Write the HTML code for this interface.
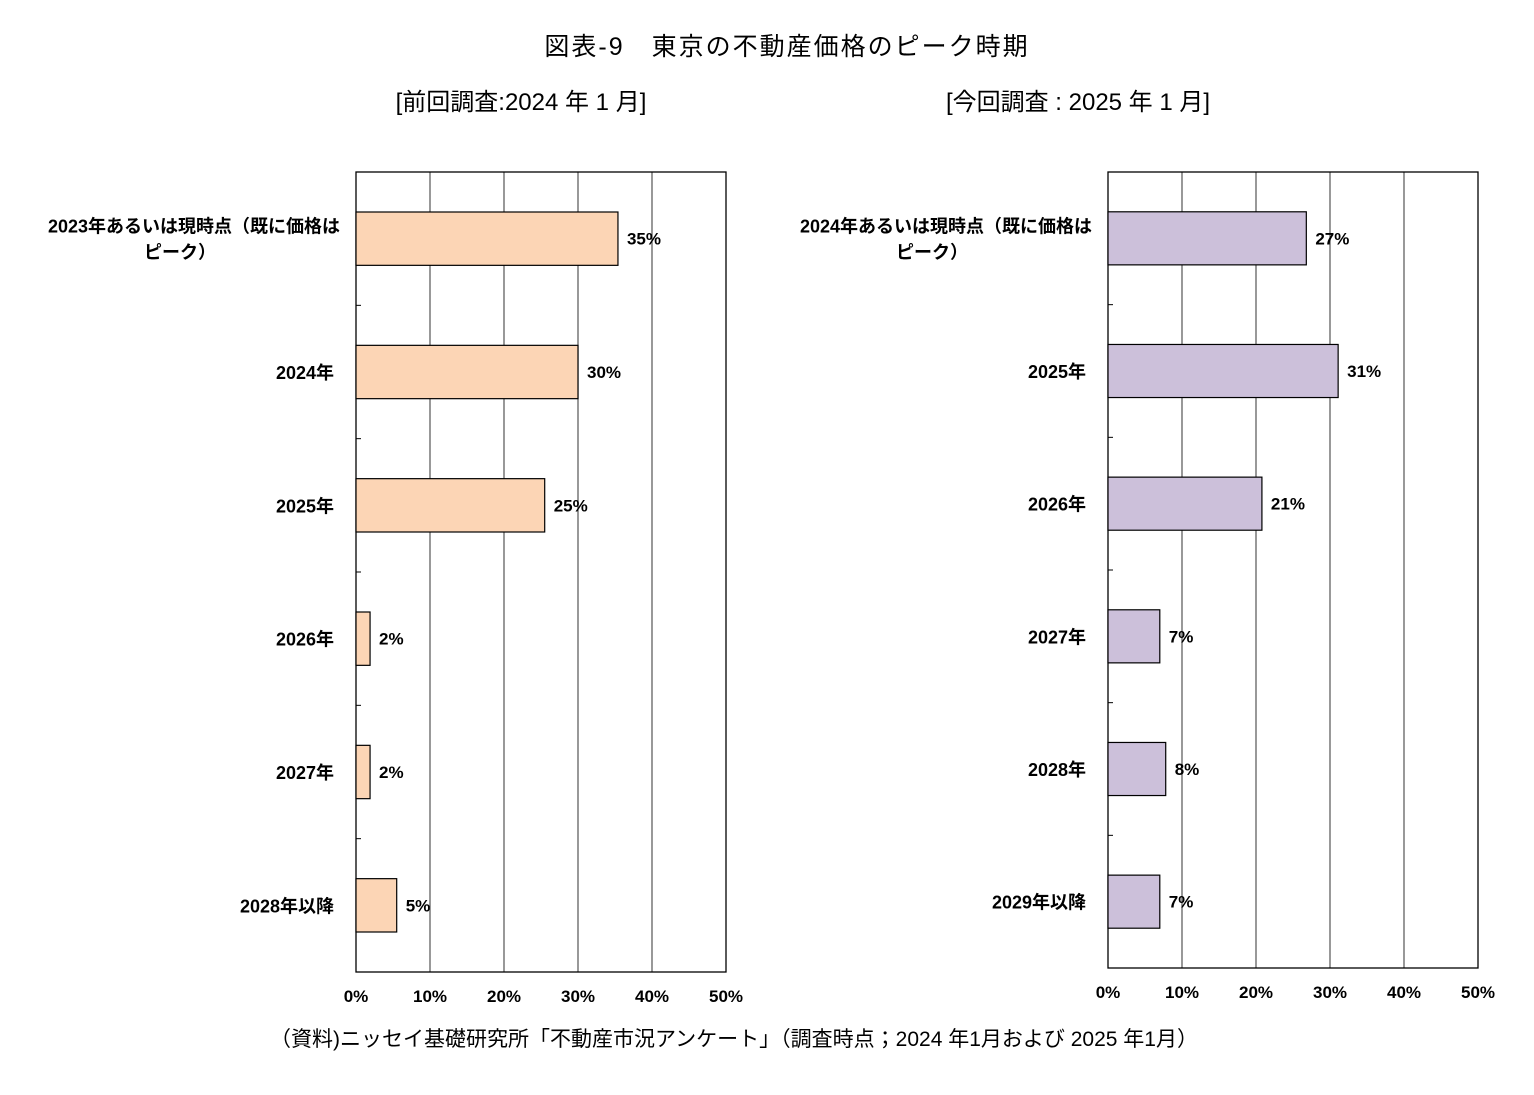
<!DOCTYPE html>
<html><head><meta charset="utf-8">
<style>
body{margin:0;background:#fff;}
svg text{font-family:"Liberation Sans","Noto Sans CJK JP",sans-serif;fill:#000;}
</style></head>
<body>
<svg id="chart" width="1534" height="1090" viewBox="0 0 1534 1090" xmlns="http://www.w3.org/2000/svg">
<rect width="1534" height="1090" fill="#fff"/>
<text x="787" y="55" font-size="25" letter-spacing="2" text-anchor="middle">図表-9　東京の不動産価格のピーク時期</text>
<text x="521" y="110" font-size="24" text-anchor="middle">[前回調査:2024 年 1 月]</text>
<text x="1078" y="110" font-size="24" text-anchor="middle">[今回調査 : 2025 年 1 月]</text>
<text x="734" y="1046" font-size="21" text-anchor="middle">（資料)ニッセイ基礎研究所「不動産市況アンケート」（調査時点；2024 年1月および 2025 年1月）</text>
<g id="left"></g>
<g id="right"></g>
</svg>
<script>
const leftCategories = [["2023年あるいは現時点（既に価格は","ピーク）"],["2024年"],["2025年"],["2026年"],["2027年"],["2028年以降"]];
const leftValues = [35.4, 30.0, 25.5, 1.9, 1.9, 5.5];
const leftLabels = ["35%","30%","25%","2%","2%","5%"];
const rightCategories = [["2024年あるいは現時点（既に価格は","ピーク）"],["2025年"],["2026年"],["2027年"],["2028年"],["2029年以降"]];
const rightValues = [26.8, 31.1, 20.8, 7.0, 7.8, 7.0];
const rightLabels = ["27%","31%","21%","7%","8%","7%"];
const xTicks = [0,10,20,30,40,50];
const xTickLabels = ["0%","10%","20%","30%","40%","50%"];

const NS="http://www.w3.org/2000/svg";
function mk(tag, attrs, parent){const e=document.createElementNS(NS,tag);for(const k in attrs)e.setAttribute(k,attrs[k]);parent.appendChild(e);return e;}

function drawChart(gid, cats, vals, labels, x0, x1, y0, y1, fill, prefix){
  const g=document.getElementById(gid);
  const xs=v=>x0+(v/50)*(x1-x0);
  const band=(y1-y0)/cats.length;
  const yc=i=>y0+band*(i+0.5);
  xTicks.forEach((t,i)=>{
    if(t>0&&t<50){const l=mk('line',{x1:xs(t),x2:xs(t),y1:y0,y2:y1,stroke:'#555','stroke-width':1.2},g);
      
      }
    const tx=mk('text',{x:xs(t),y:y1+30,'font-size':17,'font-weight':'bold','text-anchor':'middle'},g);
    tx.textContent=xTickLabels[i];
    
    
  });
  const fr=mk('rect',{x:x0,y:y0,width:x1-x0,height:y1-y0,fill:'none',stroke:'#000','stroke-width':1.3},g);
  
  
  for(let i=1;i<cats.length;i++){
    const tk=mk('line',{x1:x0,x2:x0+5,y1:y0+band*i,y2:y0+band*i,stroke:'#000','stroke-width':1},g);
    
    
  }
  cats.forEach((c,i)=>{
    const bh=band*0.4;
    const r=mk('rect',{x:x0,y:yc(i)-bh/2,width:xs(vals[i])-x0,height:bh,fill:fill,stroke:'#000','stroke-width':1.2},g);
    
    
    const vl=mk('text',{x:xs(vals[i])+9,y:yc(i)+6,'font-size':17,'font-weight':'bold'},g);
    vl.textContent=labels[i];
    
    
    const cl=mk('text',{'font-size':18,'font-weight':'bold','text-anchor':'end'},g);
    
    
    if(c.length>1){
      cl.setAttribute('x',x0-16);cl.setAttribute('y',yc(i)-6);cl.textContent=c[0];
      const c2=mk('text',{x:x0-140,y:yc(i)+20,'font-size':18,'font-weight':'bold','text-anchor':'end'},g);
      c2.textContent=c[1];
      
      
    } else {
      cl.setAttribute('x',x0-22);cl.setAttribute('y',yc(i)+7);cl.textContent=c[0];
    }
  });
}
drawChart('left',leftCategories,leftValues,leftLabels,356,726,172,972,'#FCD5B5','left');
drawChart('right',rightCategories,rightValues,rightLabels,1108,1478,172,968,'#CCC0DA','right');
</script>
</body></html>
